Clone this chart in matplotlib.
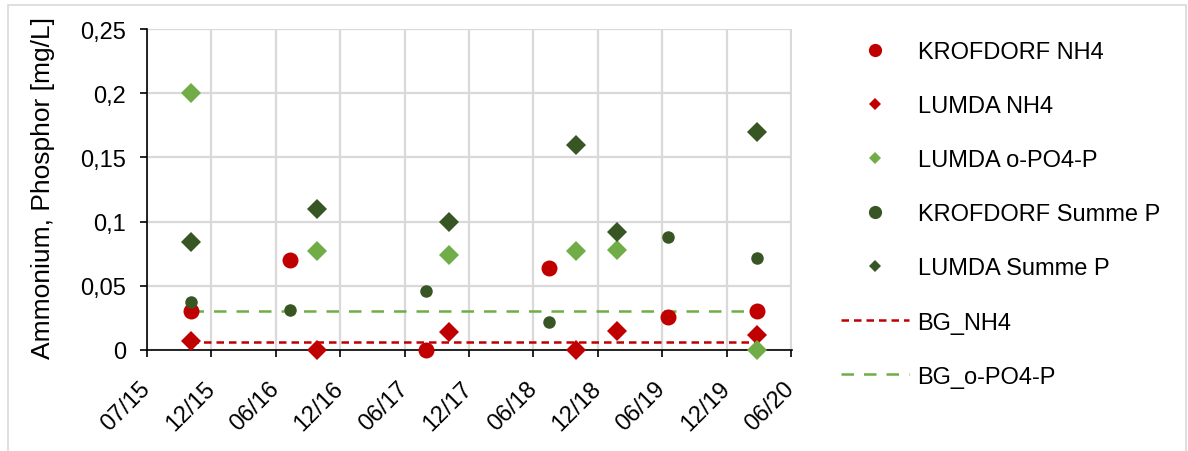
import matplotlib
matplotlib.use("Agg")
import matplotlib.pyplot as plt
import matplotlib.dates as mdates
from matplotlib.patches import Rectangle
from matplotlib.lines import Line2D
from matplotlib.ticker import FuncFormatter
from datetime import datetime, timedelta

plt.rcParams['font.family'] = ['Liberation Sans', 'DejaVu Sans']

# --- data ---
krofdorf_dates = ["2015-11-01", "2016-08-04", "2017-08-18", "2018-07-28", "2019-06-25", "2020-03-01"]
krofdorf_nh4 = [0.030, 0.070, 0.000, 0.064, 0.026, 0.030]
krofdorf_summe_p = [0.037, 0.031, 0.046, 0.022, 0.088, 0.072]

lumda_dates = ["2015-11-01", "2016-10-19", "2017-10-21", "2018-10-13", "2019-02-05", "2020-03-01"]
lumda_nh4 = [0.007, 0.000, 0.014, 0.000, 0.015, 0.012]
lumda_opo4 = [0.200, 0.077, 0.074, 0.077, 0.078, 0.000]
lumda_summe_p = [0.084, 0.110, 0.100, 0.160, 0.092, 0.170]

bg_dates = ["2015-11-01", "2020-03-01"]
bg_nh4 = [0.006, 0.006]
bg_opo4 = [0.030, 0.030]

axis_start = "2015-07-01"
tick_step_days = 180
n_ticks = 11
y_ticks = [0, 0.05, 0.1, 0.15, 0.2, 0.25]

RED = "#C00000"
LGREEN = "#70AD47"
DGREEN = "#375623"
GRID = "#D9D9D9"

to_dt = lambda s: datetime.strptime(s, "%Y-%m-%d")
kd = [to_dt(s) for s in krofdorf_dates]
ld = [to_dt(s) for s in lumda_dates]
bd = [to_dt(s) for s in bg_dates]
start = to_dt(axis_start)
xticks = [start + timedelta(days=tick_step_days * i) for i in range(n_ticks)]

fig = plt.figure(figsize=(11.88, 4.52), dpi=100)
fig.patches.append(Rectangle((8 / 1188, -0.1), (1186 - 8) / 1188, 1.1 - 6 / 452,
                             transform=fig.transFigure, fill=False,
                             edgecolor=GRID, linewidth=1.2))
ax = fig.add_axes([147 / 1188, (452 - 351) / 452, (792 - 147) / 1188, (351 - 30) / 452])

ax.plot(bd, bg_nh4, linestyle=(0, (3, 2)), color=RED, linewidth=1.8, zorder=2)
ax.plot(bd, bg_opo4, linestyle=(0, (5, 4)), color=LGREEN, linewidth=1.8, zorder=2)

common = dict(linestyle='none', markeredgewidth=0, clip_on=False)
ax.plot(kd, krofdorf_nh4, marker='o', color=RED, markersize=11.5, zorder=3, **common)
ax.plot(ld, lumda_nh4, marker='D', color=RED, markersize=10, zorder=3, **common)
ax.plot(ld, lumda_opo4, marker='D', color=LGREEN, markersize=10, zorder=4, **common)
ax.plot(kd, krofdorf_summe_p, marker='o', color=DGREEN, markersize=9, zorder=4, **common)
ax.plot(ld, lumda_summe_p, marker='D', color=DGREEN, markersize=10, zorder=4, **common)

ax.set_xlim(xticks[0], xticks[-1] + timedelta(days=3))
ax.set_ylim(0, 0.25)
ax.set_xticks(xticks)
ax.xaxis.set_major_formatter(mdates.DateFormatter("%m/%y"))
ax.set_yticks(y_ticks)
ax.yaxis.set_major_formatter(FuncFormatter(lambda v, p: ("%g" % v).replace(".", ",")))

ax.grid(True, color=GRID, linewidth=1.6, zorder=0)
ax.set_axisbelow(True)
for s in ["top", "right"]:
    ax.spines[s].set_visible(False)
for s in ["left", "bottom"]:
    ax.spines[s].set_color("black")
    ax.spines[s].set_linewidth(1.2)
    ax.spines[s].set_zorder(2.5)

ax.tick_params(axis='y', length=5, width=1.2, pad=10, labelsize=17)
ax.tick_params(axis='x', length=5, width=1.2, pad=20, labelsize=17, labelrotation=45)
plt.setp(ax.get_xticklabels(), ha='right', va='center', rotation_mode='anchor')

fig.text(43 / 1188, (452 - 188) / 452, "Ammonium, Phosphor [mg/L]", rotation=90,
         ha='center', va='center', fontsize=19)

lh = dict(linestyle='none', markeredgewidth=0)
handles = [
    Line2D([], [], marker='o', color=RED, markersize=9.5, **lh),
    Line2D([], [], marker='D', color=RED, markersize=6.5, **lh),
    Line2D([], [], marker='D', color=LGREEN, markersize=6.2, **lh),
    Line2D([], [], marker='o', color=DGREEN, markersize=9.5, **lh),
    Line2D([], [], marker='D', color=DGREEN, markersize=6.5, **lh),
    Line2D([], [], linestyle=(0, (3, 2)), color=RED, linewidth=1.8),
    Line2D([], [], linestyle=(0, (5, 4)), color=LGREEN, linewidth=1.8),
]
labels = ["KROFDORF NH4", "LUMDA NH4", "LUMDA o-PO4-P", "KROFDORF Summe P",
          "LUMDA Summe P", "BG_NH4", "BG_o-PO4-P"]
fig.legend(handles=handles, labels=labels,
           loc='upper left', bbox_to_anchor=(841 / 1188, 1 - 42 / 452),
           frameon=False, fontsize=17, handlelength=2.9, handletextpad=0.34,
           labelspacing=1.36, borderpad=0, borderaxespad=0)

fig.savefig("out.png", dpi=100)
